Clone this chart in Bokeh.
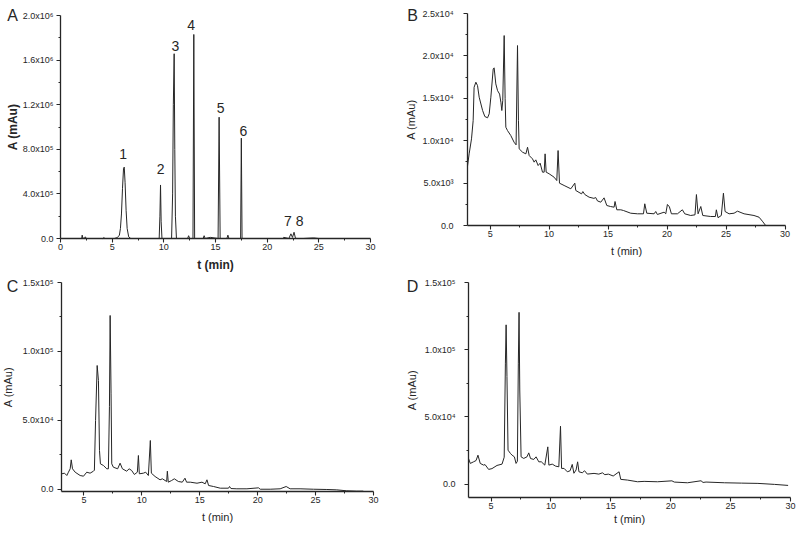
from bokeh.plotting import figure
from bokeh.models import FixedTicker, LinearAxis, ColumnDataSource, Range1d, Label
from bokeh.embed import file_html
from bokeh.resources import INLINE
from bokeh.core.properties import value

# ---------------- data ----------------
# Panel A: standard mixture chromatogram, (t [min], A [mAu])
trace_a = [
    (1.9, 0), (2.05, 0), (2.1, 30000), (2.15, 5000), (2.3, 0), (2.4, 15000), (2.5, 0),
    (3.2, 0), (4.1, 0), (4.2, 8000), (4.3, 0), (5.2, 0), (5.5, 8000), (5.7, 30000),
    (5.8, 90000), (5.9, 220000), (6.0, 450000), (6.1, 630000), (6.17, 640000),
    (6.25, 500000), (6.35, 250000), (6.45, 90000), (6.6, 15000), (6.8, 0),
    (9.55, 0), (9.62, 200000), (9.68, 480000), (9.74, 150000), (9.82, 0),
    (10.75, 0), (10.85, 400000), (10.92, 1200000), (11.0, 1657000), (11.06, 800000),
    (11.12, 200000), (11.22, 0), (12.3, 0), (12.4, 25000), (12.5, 0),
    (12.82, 0), (12.9, 1830000), (12.98, 0), (13.8, 0), (13.9, 25000), (14.0, 0),
    (14.5, 10000), (15.25, 0), (15.35, 1088000), (15.45, 0), (16.1, 0), (16.2, 30000),
    (16.3, 0), (17.43, 0), (17.5, 900000), (17.57, 0), (18.3, 0), (21.5, 0),
    (21.6, 10000), (22.1, 0), (22.3, 42000), (22.45, 10000), (22.6, 56000),
    (22.72, 10000), (22.85, 0), (23.5, 0), (24.5, 5000), (25.0, 0),
]
peak_labels = ["1", "2", "3", "4", "5", "6", "7", "8"]
peak_label_t = [6.07, 9.68, 11.13, 12.65, 15.49, 17.69, 22.0, 23.14]
peak_label_v = [753400, 618900, 1724700, 1910400, 1166000, 962400, 155200, 155200]

# Panel B
trace_b = [
    (3.08, 7000), (3.22, 8450), (3.42, 10220), (3.56, 12380), (3.64, 16300),
    (3.79, 16900), (3.93, 16500), (4.07, 15130), (4.36, 13560), (4.55, 12850),
    (4.78, 12700), (4.92, 13170), (5.06, 15130), (5.26, 18470), (5.34, 18590),
    (5.48, 16700), (5.63, 15900), (5.8, 15500), (5.91, 14540), (5.99, 13560),
    (6.07, 14740), (6.19, 22400), (6.27, 15000), (6.33, 11590), (6.47, 11200),
    (6.75, 10610), (7.03, 9820), (7.2, 9510), (7.32, 21220), (7.4, 12400),
    (7.46, 9040), (7.75, 8640), (8.03, 8450), (8.17, 9230), (8.31, 8250),
    (8.59, 7860), (8.73, 7470), (8.87, 7740), (9.07, 7070), (9.24, 7350),
    (9.44, 6290), (9.58, 6290), (9.66, 8450), (9.75, 6290), (10.0, 6100),
    (10.42, 5700), (10.65, 5300), (10.76, 8840), (10.88, 4990), (11.27, 4720),
    (11.84, 4330), (12.18, 4990), (12.26, 4130), (12.75, 3730), (12.86, 4000),
    (13.03, 3650), (13.39, 3340), (13.8, 3200), (13.95, 3300), (14.1, 2900),
    (14.38, 2750), (14.66, 3260), (14.89, 2360), (15.2, 2240), (15.51, 2160),
    (15.59, 2830), (15.74, 1850), (16.08, 1850), (16.3, 1770), (16.92, 1450),
    (17.49, 1380), (18.0, 1380), (18.11, 2560), (18.28, 1450), (18.9, 1380),
    (19.04, 1650), (19.18, 1300), (19.75, 1570), (19.89, 1380), (20.03, 2480),
    (20.2, 2200), (20.37, 1380), (20.88, 1380), (21.3, 1850), (21.5, 1380),
    (22.0, 1180), (22.37, 1260), (22.49, 3650), (22.63, 1380), (22.86, 2240),
    (23.03, 1180), (23.7, 1060), (24.1, 1060), (24.18, 1850), (24.32, 920),
    (24.6, 1180), (24.78, 3810), (24.92, 1650), (25.26, 1380), (25.68, 1450),
    (25.97, 1690), (26.53, 1380), (27.37, 1180), (27.8, 980), (28.08, 510),
    (28.36, 0),
]

# Panel C
trace_c = [
    (3.09, 11380), (3.32, 11830), (3.52, 10140), (3.66, 12540), (3.81, 15000),
    (3.9, 21500), (4.01, 15000), (4.24, 12540), (4.67, 10140), (4.96, 9640),
    (5.24, 12540), (5.53, 11830), (5.82, 13280), (5.9, 14000), (6.0, 50000),
    (6.14, 89850), (6.25, 79000), (6.34, 28260), (6.42, 18600), (6.68, 17400),
    (6.97, 15000), (7.11, 15000), (7.2, 60000), (7.26, 126100), (7.34, 69300),
    (7.4, 18600), (7.54, 16150), (7.91, 15000), (8.12, 19060), (8.32, 15000),
    (8.69, 13280), (8.9, 15000), (9.12, 13770), (9.35, 10870), (9.61, 12540),
    (9.7, 24640), (9.78, 11380), (10.13, 11830), (10.33, 12540), (10.56, 10140),
    (10.73, 35500), (10.82, 11830), (11.14, 9420), (11.57, 7030), (11.77, 7750),
    (12.14, 5800), (12.2, 13280), (12.28, 5300), (12.57, 6520), (12.8, 7750),
    (13.15, 5800), (13.49, 5300), (13.72, 8190), (13.86, 5300), (14.18, 5300),
    (14.76, 4560), (15.19, 5300), (15.47, 4130), (15.62, 7030), (15.76, 2900),
    (16.19, 2170), (16.77, 940), (17.48, 940), (17.57, 2170), (17.69, 700),
    (18.2, 500), (19.07, 500), (20.07, 1200), (20.22, 200), (21.08, 200),
    (21.94, 500), (22.46, 2170), (22.8, 500), (23.66, 500), (24.81, 200),
    (25.97, 0), (26.83, -250), (27.69, -950), (28.55, -1200), (29.12, -1200),
]

# Panel D
trace_d = [
    (3.12, 19070), (3.27, 15360), (3.55, 16600), (3.75, 17500), (3.91, 21500),
    (4.1, 15360), (4.38, 14100), (4.5, 14500), (4.8, 10900), (5.08, 11500),
    (5.5, 13870), (5.92, 14840), (6.1, 20000), (6.2, 90000), (6.26, 118500),
    (6.33, 80000), (6.42, 25230), (6.62, 22780), (6.76, 21500), (6.95, 20260),
    (7.09, 15360), (7.2, 17000), (7.28, 90000), (7.34, 127800), (7.4, 70000),
    (7.51, 20260), (7.73, 19070), (8.0, 20260), (8.15, 23220), (8.3, 19000),
    (8.57, 18330), (8.76, 20260), (8.99, 16550), (9.2, 16550), (9.49, 14100),
    (9.74, 27680), (9.83, 14100), (10.11, 14840), (10.39, 13360), (10.66, 12840),
    (10.8, 43040), (10.89, 11650), (11.1, 11650), (11.37, 9130), (11.6, 9900),
    (11.78, 14620), (11.92, 8040), (12.1, 10500), (12.23, 16550), (12.34, 9130),
    (12.62, 8410), (12.81, 9900), (13.04, 7420), (13.6, 7940), (14.0, 7400),
    (14.3, 8380), (14.5, 7000), (14.8, 7400), (15.2, 6000), (15.69, 9130),
    (15.83, 3490), (16.39, 2970), (17.23, 1710), (17.78, 2000), (18.9, 1710),
    (20.1, 2400), (20.3, 1480), (21.4, 960), (22.53, 2450), (22.7, 1200),
    (22.95, 1500), (24.5, 960), (25.9, 700), (27.28, 500), (28.67, -250),
    (29.8, -1000),
]

# axis ticks / labels
a_xticks = [0, 5, 10, 15, 20, 25, 30]
bcd_xticks = [5, 10, 15, 20, 25, 30]
a_yticks = [0, 400000, 800000, 1200000, 1600000, 2000000]
a_ylabels = ["0.0", "4.0x10\u2075", "8.0x10\u2075", "1.2x10\u2076", "1.6x10\u2076", "2.0x10\u2076"]
b_yticks = [0, 5000, 10000, 15000, 20000, 25000]
b_ylabels = ["0.0", "5.0x10\u00b3", "1.0x10\u2074", "1.5x10\u2074", "2.0x10\u2074", "2.5x10\u2074"]
cd_yticks = [0, 50000, 100000, 150000]
cd_ylabels = ["0.0", "5.0x10\u2074", "1.0x10\u2075", "1.5x10\u2075"]

# ---------------- layout / style ----------------
W, H = 800, 533
FONT = "Liberation Sans"
INK = "#262626"

p = figure(width=W, height=H, x_range=(0, W), y_range=(0, H), x_axis_type=None,
           y_axis_type=None, min_border=0, output_backend="svg", toolbar_location=None)
p.outline_line_color = None
p.background_fill_color = "white"
p.border_fill_color = "white"


def full_range(d0, d1, p0, p1, total):
    # range over the whole canvas such that d0..d1 sits on pixels p0..p1
    s = (d1 - d0) / (p1 - p0)
    return Range1d(d0 - p0 * s, d1 + (total - p1) * s)


def panel(key, trace, xr, yr, box, xticks, yticks, ylabels, letter, letter_xy,
          bold, y_std, ytitle_std, x_std, xtitle_std, title_size):
    left, right, bottom, top = box  # page pixels (y from the top)
    xn, yn = "x" + key, "y" + key
    p.extra_x_ranges[xn] = full_range(xr[0], xr[1], left, right, W)
    p.extra_y_ranges[yn] = full_range(yr[0], yr[1], H - bottom, H - top, H)

    ts = [a for a, b in trace]
    vs = [b for a, b in trace]
    p.line(ts, vs, line_color=INK, line_width=1.0, x_range_name=xn, y_range_name=yn)

    xstep = xticks[1] - xticks[0]
    xminor = [x - xstep / 2 for x in xticks if xr[0] <= x - xstep / 2 <= xr[1]]
    ystep = yticks[1] - yticks[0]
    yminor = [y + ystep / 2 for y in yticks[:-1]]

    xax = LinearAxis(x_range_name=xn, y_range_name=yn, fixed_location=yr[0], bounds=xr,
                     ticker=FixedTicker(ticks=xticks, minor_ticks=xminor),
                     axis_label="t (min)")
    yax = LinearAxis(x_range_name=xn, y_range_name=yn, fixed_location=xr[0], bounds=yr,
                     ticker=FixedTicker(ticks=yticks, minor_ticks=yminor),
                     major_label_overrides={t: l for t, l in zip(yticks, ylabels)},
                     axis_label="A (mAu)")
    for ax in (xax, yax):
        ax.axis_line_color = INK
        ax.axis_line_width = 1.3
        ax.major_tick_line_color = INK
        ax.minor_tick_line_color = INK
        ax.major_tick_line_width = 1.1
        ax.minor_tick_line_width = 1.0
        ax.major_tick_out = 4
        ax.major_tick_in = 0
        ax.minor_tick_out = 2
        ax.minor_tick_in = 0
        ax.major_label_text_font = FONT
        ax.major_label_text_font_size = "9px"
        ax.major_label_text_color = INK
        ax.axis_label_text_font = FONT
        ax.axis_label_text_font_size = title_size
        ax.axis_label_text_color = INK
        ax.axis_label_text_font_style = "bold" if bold else "normal"
    yax.major_label_standoff = y_std
    yax.axis_label_standoff = ytitle_std
    xax.major_label_standoff = x_std
    xax.axis_label_standoff = xtitle_std
    p.add_layout(xax, "below")
    p.add_layout(yax, "left")

    p.add_layout(Label(x=letter_xy[0], y=H - letter_xy[1], x_units="screen",
                       y_units="screen", text=letter, text_font=FONT,
                       text_font_size="16px", text_color=INK, text_align="center",
                       text_baseline="middle"))
    return xn, yn


xa, ya = panel("a", trace_a, (0, 30), (0, 2000000), (60, 370, 238, 15), a_xticks,
               a_yticks, a_ylabels, "A", (12, 15), True, 3, 0, 1, 5, "12px")
src = ColumnDataSource(dict(t=peak_label_t, v=peak_label_v, lab=peak_labels))
p.text(x="t", y="v", text="lab", source=src, x_range_name=xa, y_range_name=ya,
       text_font=value(FONT), text_font_size="14px", text_color=INK,
       text_align="center", text_baseline="middle")

panel("b", trace_b, (3.08, 30), (0, 25000), (467, 784.5, 225, 13), bcd_xticks,
      b_yticks, b_ylabels, "B", (412, 15), False, 10, 3, 1, 5, "11px")
panel("c", trace_c, (3.06, 30), (-1450, 150000), (61, 373, 491, 282), bcd_xticks,
      cd_yticks, cd_ylabels, "C", (12, 286), False, 4, 6, 1, 5, "11px")
panel("d", trace_d, (3.12, 30), (-10000, 150000), (468, 790, 497, 282), bcd_xticks,
      cd_yticks, cd_ylabels, "D", (412, 286), False, 9, 4, 1, 1, "11px")

open("out.html", "w").write(file_html(p, INLINE))
